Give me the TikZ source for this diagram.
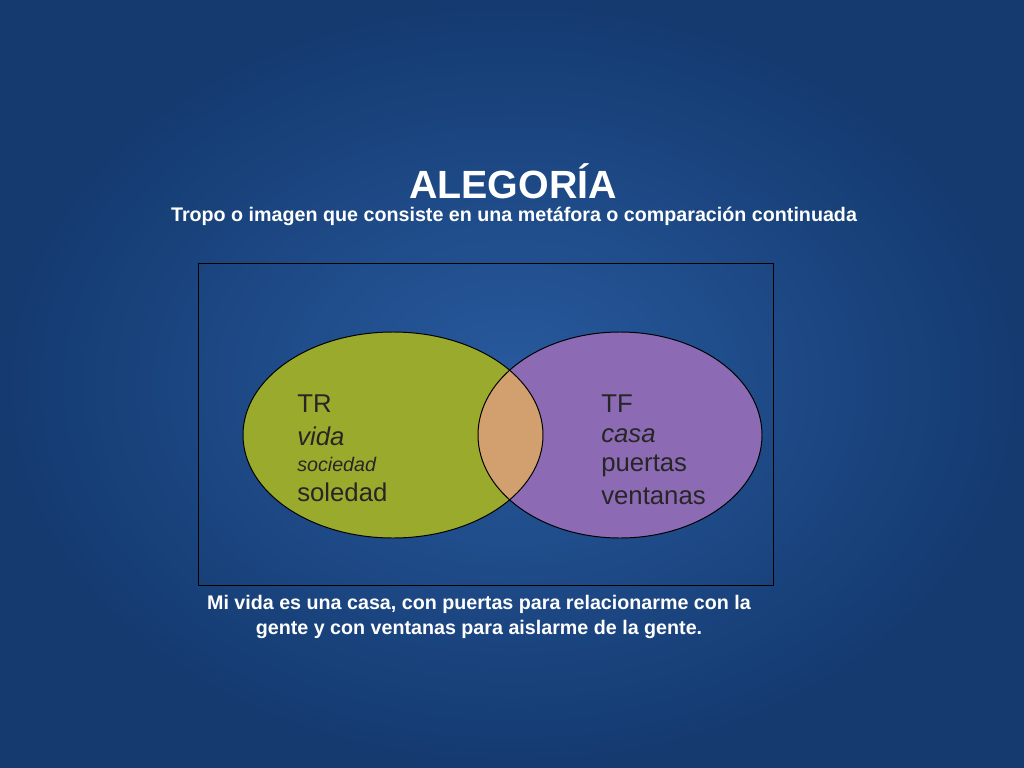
\documentclass[tikz,border=0pt]{standalone}
\usepackage{fontspec}
\setmainfont{Liberation Sans}
\begin{document}
\begin{tikzpicture}[x=0.025cm,y=-0.025cm,
  tit/.style={text=white,font=\bfseries},
  lab/.style={anchor=west,inner sep=0pt,text=black!85}]
\definecolor{bgc}{HTML}{285A9E}
\definecolor{bge}{HTML}{143A70}
\definecolor{grn}{HTML}{9AAA2C}
\definecolor{prp}{HTML}{8C6AB4}
\definecolor{tan}{HTML}{D2A06E}
\useasboundingbox (0,0) rectangle (1024,768);
\shade[inner color=bgc,outer color=bge] (0,0) rectangle (1024,768);
\node[tit,font=\bfseries\fontsize{28}{32}\selectfont] (title) at (513,181) {ALEGORÍA};
\node[tit,font=\bfseries\fontsize{14}{16}\selectfont] (sub) at (514,216) {Tropo o imagen que consiste en una metáfora o comparación continuada};
\node[draw=black,line width=0.7pt,minimum width=575*0.025cm,minimum height=322*0.025cm,inner sep=0pt] (box) at (485.5,424) {};
\fill[grn] (393,435) ellipse [x radius=150,y radius=103];
\fill[prp] (620,435) ellipse [x radius=142,y radius=103];
\begin{scope}
\clip (393,435) ellipse [x radius=150,y radius=103];
\fill[tan] (620,435) ellipse [x radius=142,y radius=103];
\end{scope}
\draw[line width=0.7pt] (393,435) ellipse [x radius=150,y radius=103];
\draw[line width=0.7pt] (620,435) ellipse [x radius=142,y radius=103];
\node[lab,font=\fontsize{18.3}{20}\selectfont] (tr) at (297,404) {TR};
\node[lab,font=\itshape\fontsize{18.3}{20}\selectfont] (vida) at (297,436) {vida};
\node[lab,font=\itshape\fontsize{14}{16}\selectfont] (soc) at (297,464) {sociedad};
\node[lab,font=\fontsize{18.3}{20}\selectfont] (sol) at (297,492) {soledad};
\node[lab,font=\fontsize{18.3}{20}\selectfont] (tf) at (601,404) {TF};
\node[lab,font=\itshape\fontsize{18.3}{20}\selectfont] (casa) at (601,436) {casa};
\node[lab,font=\fontsize{18.3}{20}\selectfont] (pue) at (601,466) {puertas};
\node[lab,font=\fontsize{18.3}{20}\selectfont] (ven) at (601,496) {ventanas};
\node[tit,font=\bfseries\fontsize{14}{17.5}\selectfont,align=center] (bot) at (479,617) {Mi vida es una casa, con puertas para relacionarme con la\\gente y con ventanas para aislarme de la gente.};
\end{tikzpicture}
\end{document}
